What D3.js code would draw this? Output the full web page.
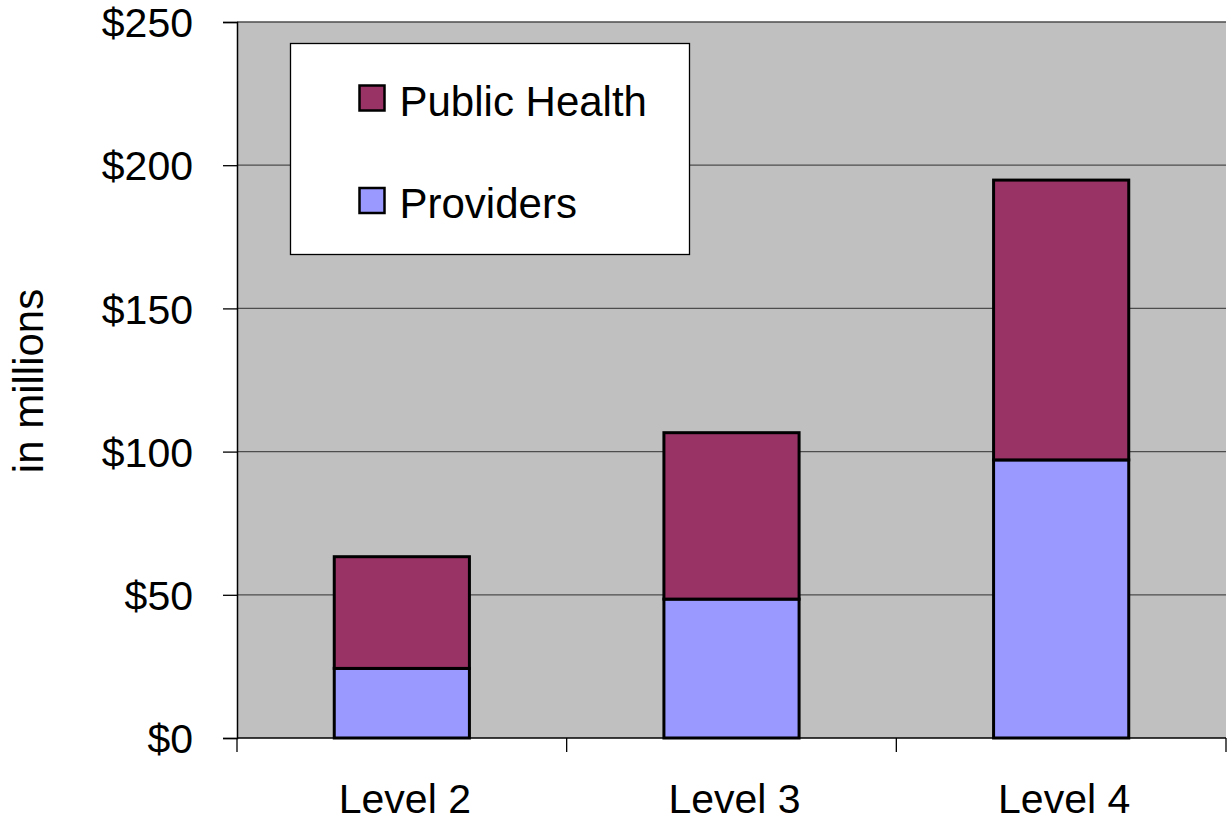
<!DOCTYPE html>
<html>
<head>
<meta charset="utf-8">
<script src="https://cdn.jsdelivr.net/npm/d3@7"></script>
<style>
  html, body { margin: 0; padding: 0; background: #fff; }
  svg { display: block; }
  text { font-family: "Liberation Sans", Arial, sans-serif; fill: #000; }
</style>
</head>
<body>
<svg id="chart" width="1231" height="823"></svg>
<script>
// Spending by level, in millions of dollars
const categories = ["Level 2", "Level 3", "Level 4"];
const providers = [24.3, 48.5, 97.1];
const publicHealth = [39.0, 58.1, 97.7];
const seriesNames = ["Providers", "Public Health"];
const seriesColors = ["#9999FF", "#993366"];
const yTicks = [0, 50, 100, 150, 200, 250];
const yTitle = "in millions";

const svg = d3.select("#chart");
const plot = { left: 237, right: 1226, top: 22, bottom: 738 };

const x = d3.scaleBand()
  .domain(categories)
  .range([plot.left, plot.right])
  .paddingInner(0.59)
  .paddingOuter(0.295);

const y = d3.scaleLinear()
  .domain([0, 250])
  .range([plot.bottom, plot.top]);

// Plot background
svg.append("rect")
  .attr("x", plot.left).attr("y", plot.top)
  .attr("width", plot.right - plot.left).attr("height", plot.bottom - plot.top)
  .attr("fill", "#C0C0C0");

// Horizontal gridlines
svg.append("g")
  .selectAll("line")
  .data(yTicks.filter(d => d > 0))
  .join("line")
  .attr("x1", plot.left).attr("x2", plot.right)
  .attr("y1", d => y(d)).attr("y2", d => y(d))
  .attr("stroke", "#4d4d4d").attr("stroke-width", 1.3);

// Stacked data
const rows = categories.map((c, i) => ({ cat: c, Providers: providers[i], "Public Health": publicHealth[i] }));
const stacked = d3.stack().keys(seriesNames)(rows);

svg.append("g")
  .selectAll("g")
  .data(stacked)
  .join("g")
  .attr("fill", (d, i) => seriesColors[i])
  .selectAll("rect")
  .data(d => d)
  .join("rect")
  .attr("x", d => x(d.data.cat))
  .attr("width", x.bandwidth())
  .attr("y", d => y(d[1]))
  .attr("height", d => y(d[0]) - y(d[1]))
  .attr("stroke", "#000")
  .attr("stroke-width", 3);

// Y axis
const yAxis = d3.axisLeft(y)
  .tickValues(yTicks)
  .tickSize(14)
  .tickPadding(30)
  .tickFormat(d => "$" + d);

svg.append("g")
  .attr("transform", `translate(${plot.left},0)`)
  .call(yAxis)
  .call(g => g.select(".domain").attr("stroke", "#000").attr("stroke-width", 1.5))
  .call(g => g.selectAll(".tick line").attr("stroke", "#000").attr("stroke-width", 1.3))
  .call(g => g.selectAll(".tick text")
    .attr("font-size", 41)
    .attr("font-family", "Liberation Sans, Arial, sans-serif")
    .attr("dy", "0.36em"));

// X axis: ticks at category boundaries
const xBoundaries = d3.range(categories.length + 1)
  .map(i => plot.left + i * (plot.right - plot.left) / categories.length);

svg.append("line")
  .attr("x1", plot.left).attr("x2", plot.right)
  .attr("y1", plot.bottom).attr("y2", plot.bottom)
  .attr("stroke", "#000").attr("stroke-width", 1.5);

svg.append("g")
  .selectAll("line")
  .data(xBoundaries)
  .join("line")
  .attr("x1", d => d).attr("x2", d => d)
  .attr("y1", plot.bottom).attr("y2", plot.bottom + 14)
  .attr("stroke", "#000").attr("stroke-width", 1.3);

svg.append("g")
  .selectAll("text")
  .data(categories)
  .join("text")
  .attr("x", d => x(d) + x.bandwidth() / 2 + 3)
  .attr("y", 813)
  .attr("text-anchor", "middle")
  .attr("font-size", 41)
  .text(d => d);

// Y axis title
svg.append("text")
  .attr("transform", "translate(43,381) rotate(-90)")
  .attr("text-anchor", "middle")
  .attr("font-size", 42)
  .attr("fill", "#000")
  .text(yTitle);

// Legend
const legend = svg.append("g").attr("transform", "translate(290.5,43.5)");
legend.append("rect")
  .attr("width", 399).attr("height", 211)
  .attr("fill", "#fff").attr("stroke", "#000").attr("stroke-width", 1.3);

const legendItems = [
  { name: seriesNames[1], color: seriesColors[1] },
  { name: seriesNames[0], color: seriesColors[0] }
];
const li = legend.selectAll("g.item")
  .data(legendItems)
  .join("g")
  .attr("class", "item")
  .attr("transform", (d, i) => `translate(0,${i * 102.5})`);

li.append("rect")
  .attr("x", 69).attr("y", 42)
  .attr("width", 25).attr("height", 25)
  .attr("fill", d => d.color)
  .attr("stroke", "#000").attr("stroke-width", 2.5);

li.append("text")
  .attr("x", 109).attr("y", 72)
  .attr("font-size", 42)
  .text(d => d.name);
</script>
</body>
</html>
